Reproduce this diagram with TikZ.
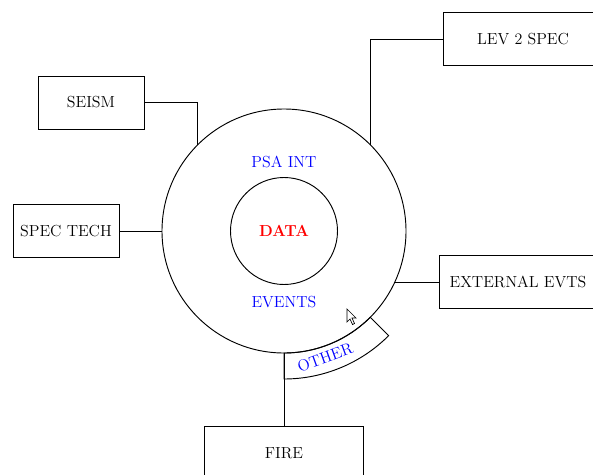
\documentclass[tikz,border=0pt]{standalone}
\begin{document}
\begin{tikzpicture}[x=0.75pt,y=0.75pt,
  line width=0.7pt,
  box/.style={draw, rectangle, inner sep=0pt, outer sep=0pt, minimum height=39.75pt, font=\fontsize{12}{14}\selectfont},
  ring/.style={draw, circle, inner sep=0pt, outer sep=0pt},
  conn/.style={draw, line width=0.7pt},
  lbl/.style={font=\fontsize{12}{14}\selectfont, text=blue}]
\useasboundingbox (0,0) rectangle (593,-475);
% circles
\node[ring, minimum size=183pt] (big) at (284,-231) {};
\node[ring, minimum size=80.25pt] (inner) at (284,-231) {};
\node[font=\fontsize{12}{14}\selectfont\bfseries, text=red] (data) at (inner.center) {DATA};
\node[lbl] (psa) at (284,-162) {PSA INT};
\node[lbl] (events) at (284,-302) {EVENTS};
% OTHER sector
\coordinate (c) at (284,-231);
\draw ([shift={(-90:148)}]c) arc[start angle=-90, end angle=-45, radius=148]
  -- ([shift={(-45:122)}]c) arc[start angle=-45, end angle=-90, radius=122] -- cycle;
\node[lbl, rotate=20, inner sep=0pt] (other) at ([shift={(-72:133)}]c) {OTHER};
% boxes
\node[box, minimum width=79.5pt] (seism) at (91,-102.5) {SEISM};
\node[box, minimum width=79.5pt] (spec) at (66,-231) {SPEC TECH};
\node[box, minimum width=120pt] (lev) at (523,-39) {LEV 2 SPEC};
\node[box, minimum width=118.5pt] (ext) at (518,-282) {EXTERNAL EVTS};
\node[box, minimum width=119.25pt] (fire) at (284,-453) {FIRE};
% connectors
\draw[conn] (seism.east) -| (big.135.5);
\draw[conn] (lev.west) -| (big.45.2);
\draw[conn] (spec.east) -- (big.west);
\draw[conn] (ext.west) -- (ext.west -| big.-24.7);
\draw[conn] (big.south) -- (fire.north);
% mouse pointer
\draw[line width=0.5pt, fill=white] (347,-309) -- (347,-322) -- (350,-319) -- (352.5,-324.5) -- (354.5,-323.5) -- (352,-318) -- (356,-318) -- cycle;
\end{tikzpicture}
\end{document}
